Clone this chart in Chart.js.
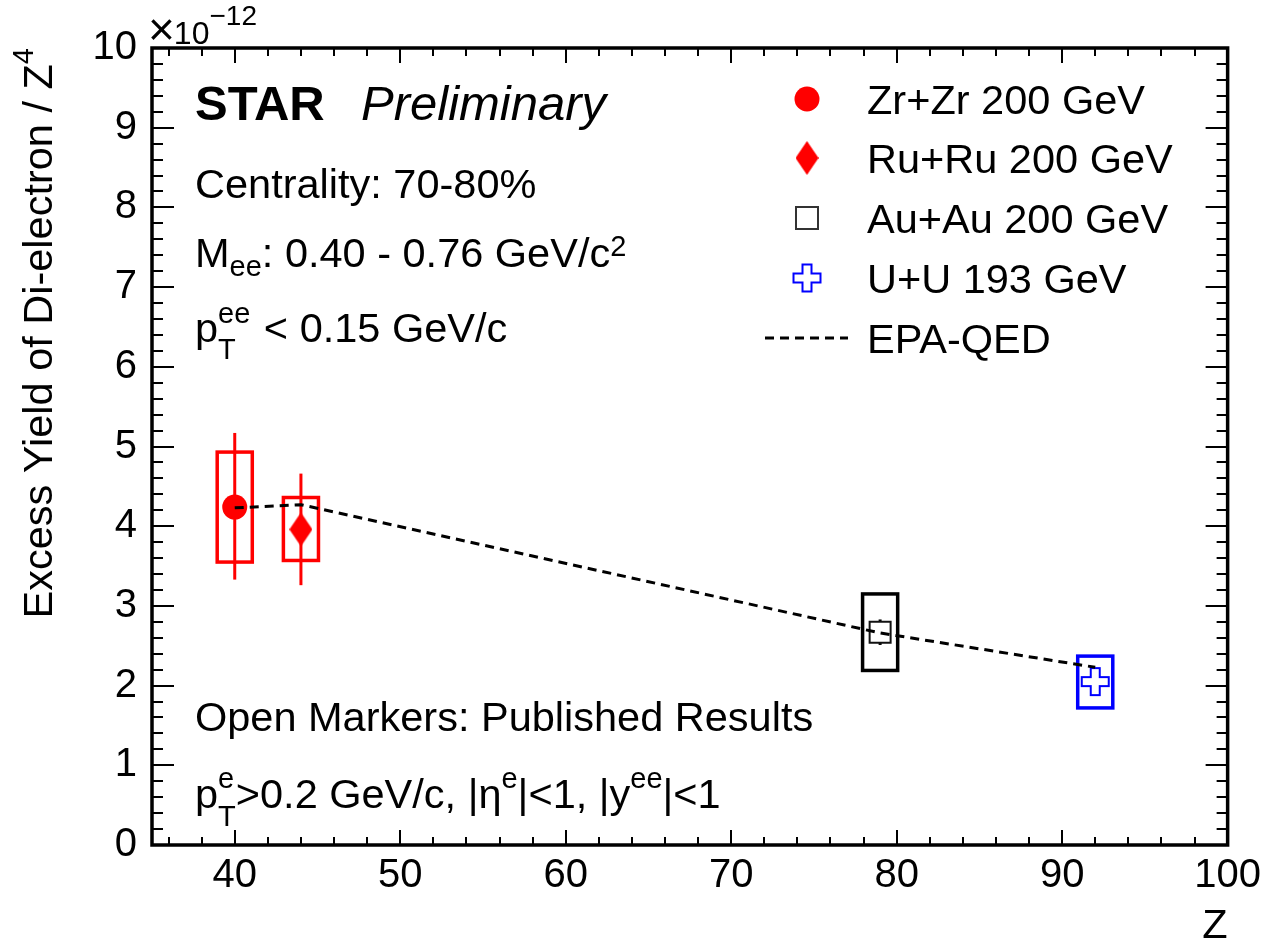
<!DOCTYPE html>
<html>
<head>
<meta charset="utf-8">
<script src="https://cdn.jsdelivr.net/npm/chart.js@4.4.1/dist/chart.umd.min.js"></script>
<style>
html,body{margin:0;padding:0;background:#fff;}
canvas{display:block;}
</style>
</head>
<body>
<canvas id="c" width="1268" height="944" style="width:1268px;height:944px"></canvas>
<script>
// ---------------- data ----------------
const xTicks = [40, 50, 60, 70, 80, 90, 100];
const yTicks = [0, 1, 2, 3, 4, 5, 6, 7, 8, 9, 10];
const systems = ['Zr+Zr 200 GeV', 'Ru+Ru 200 GeV', 'Au+Au 200 GeV', 'U+U 193 GeV'];
const zValues = [40, 44, 79, 92];
const yields = [4.24, 3.96, 2.67, 2.05];
const statLow = [3.33, 3.26, 2.51, 1.95];
const statHigh = [5.17, 4.66, 2.83, 2.15];
const sysLow = [3.55, 3.57, 2.19, 1.72];
const sysHigh = [4.93, 4.36, 3.15, 2.37];
const epaZ = [40, 44, 79, 92];
const epaYield = [4.23, 4.27, 2.66, 2.23];
const epaLabel = 'EPA-QED';

// ---------------- styles ----------------
const FONT = '"Liberation Sans", Arial, Helvetica, sans-serif';
const COLORS = ['#ff0000', '#ff0000', '#000000', '#0000ff'];
const BOX_HALF = 1.06;
const TXT = 41.5;
const SUB = 29;

function makeDiamond(w, h, color) {
  const c = document.createElement('canvas');
  c.width = w; c.height = h;
  const g = c.getContext('2d');
  g.fillStyle = color;
  g.beginPath();
  g.moveTo(w / 2, 0); g.lineTo(w, h / 2); g.lineTo(w / 2, h); g.lineTo(0, h / 2);
  g.closePath(); g.fill();
  return c;
}
function makeOpenSquare(s, color, lw) {
  const c = document.createElement('canvas');
  c.width = s + 2; c.height = s + 2;
  const g = c.getContext('2d');
  g.fillStyle = '#fff';
  g.fillRect(1, 1, s, s);
  g.strokeStyle = color; g.lineWidth = lw;
  g.strokeRect(1 + lw / 2, 1 + lw / 2, s - lw, s - lw);
  return c;
}
function makeOpenCross(s, color, lw) {
  const c = document.createElement('canvas');
  c.width = s + 4; c.height = s + 4;
  const g = c.getContext('2d');
  g.translate(2, 2);
  const a = s / 3, b = 2 * s / 3;
  g.beginPath();
  g.moveTo(a, 0); g.lineTo(b, 0); g.lineTo(b, a); g.lineTo(s, a); g.lineTo(s, b);
  g.lineTo(b, b); g.lineTo(b, s); g.lineTo(a, s); g.lineTo(a, b); g.lineTo(0, b);
  g.lineTo(0, a); g.lineTo(a, a); g.closePath();
  g.fillStyle = '#fff'; g.fill();
  g.strokeStyle = color; g.lineWidth = lw; g.stroke();
  return c;
}
const diamond = makeDiamond(23, 34, '#ff0000');
const openSq = makeOpenSquare(23, '#111', 2);
const openSqLeg = makeOpenSquare(24, '#333', 2);
const openCross = makeOpenCross(27, '#0000ff', 2);

const pointStyles = ['circle', diamond, openSq, openCross];

// rich text: parts are strings or {sub, sup, subDy, supDy}
function rich(ctx, x, y, parts, size) {
  let cx = x;
  for (const p of parts) {
    if (typeof p === 'string') {
      ctx.font = size + 'px ' + FONT;
      ctx.fillText(p, cx, y);
      cx += ctx.measureText(p).width;
    } else {
      ctx.font = SUB + 'px ' + FONT;
      let w = 0;
      if (p.sub) { ctx.fillText(p.sub, cx, y + p.subDy); w = Math.max(w, ctx.measureText(p.sub).width); }
      if (p.sup) { ctx.fillText(p.sup, cx, y + p.supDy); w = Math.max(w, ctx.measureText(p.sup).width); }
      cx += w + (p.gap || 0);
    }
  }
  return cx;
}
function richWidth(ctx, parts, size) {
  let w = 0;
  for (const p of parts) {
    if (typeof p === 'string') { ctx.font = size + 'px ' + FONT; w += ctx.measureText(p).width; }
    else {
      ctx.font = SUB + 'px ' + FONT;
      let m = 0;
      if (p.sub) m = Math.max(m, ctx.measureText(p.sub).width);
      if (p.sup) m = Math.max(m, ctx.measureText(p.sup).width);
      w += m + (p.gap || 0);
    }
  }
  return w;
}

const rootPlugin = {
  id: 'rootStyle',
  beforeDatasetsDraw(chart) {
    const { ctx, scales: { x, y } } = chart;
    ctx.save();
    for (let i = 0; i < zValues.length; i++) {
      const px = x.getPixelForValue(zValues[i]);
      const hw = x.getPixelForValue(zValues[i] + BOX_HALF) - px;
      const yt = y.getPixelForValue(sysHigh[i]);
      const yb = y.getPixelForValue(sysLow[i]);
      ctx.strokeStyle = COLORS[i];
      ctx.lineWidth = 3.5;
      ctx.strokeRect(px - hw, yt, 2 * hw, yb - yt);
      ctx.lineWidth = 3;
      ctx.beginPath();
      ctx.moveTo(px, y.getPixelForValue(statHigh[i]));
      ctx.lineTo(px, y.getPixelForValue(statLow[i]));
      ctx.stroke();
    }
    ctx.restore();
  },
  afterDraw(chart) {
    const { ctx, chartArea: ca, scales: { x, y } } = chart;
    ctx.save();
    // ticks
    ctx.strokeStyle = '#000';
    ctx.lineWidth = 2;
    ctx.beginPath();
    for (let k = 0; k <= 32; k++) {
      const v = 36 + 2 * k;
      if (v > x.max) break;
      const px = Math.round(x.getPixelForValue(v));
      const len = (v % 10 === 0) ? 15 : 8;
      ctx.moveTo(px, ca.bottom); ctx.lineTo(px, ca.bottom - len);
      ctx.moveTo(px, ca.top); ctx.lineTo(px, ca.top + len);
    }
    for (let k = 0; k <= 50; k++) {
      const v = k * 0.2;
      const py = Math.round(y.getPixelForValue(v));
      const len = (k % 5 === 0) ? 22 : 11;
      ctx.moveTo(ca.left, py); ctx.lineTo(ca.left + len, py);
      ctx.moveTo(ca.right, py); ctx.lineTo(ca.right - len, py);
    }
    ctx.stroke();
    // frame
    ctx.lineWidth = 3.5;
    ctx.strokeRect(ca.left, ca.top, ca.right - ca.left, ca.bottom - ca.top);

    ctx.fillStyle = '#000';
    ctx.textBaseline = 'alphabetic';
    ctx.textAlign = 'left';

    // exponent label
    ctx.font = '46px ' + FONT;
    ctx.fillText('\u00d7', 148, 45);
    const wx = ctx.measureText('\u00d7').width;
    ctx.font = '32px ' + FONT;
    ctx.fillText('10', 148 + wx - 1, 44);
    const w10 = ctx.measureText('10').width;
    ctx.font = '28px ' + FONT;
    ctx.fillText('\u221212', 148 + wx - 1 + w10, 25);

    // Y title (rotated)
    const yParts = ['Excess Yield of Di-electron / Z', { sup: '4', supDy: -19 }];
    const yw = richWidth(ctx, yParts, TXT);
    ctx.save();
    ctx.translate(52, ca.top + yw);
    ctx.rotate(-Math.PI / 2);
    rich(ctx, 0, 0, yParts, TXT);
    ctx.restore();

    // X title
    ctx.font = TXT + 'px ' + FONT;
    ctx.textAlign = 'right';
    ctx.fillText('Z', ca.right, 938);
    ctx.textAlign = 'left';

    // STAR Preliminary
    ctx.font = 'bold 49px ' + FONT;
    ctx.fillText('STAR', 195, 120);
    ctx.font = 'italic 49px ' + FONT;
    ctx.fillText('Preliminary', 361, 120);

    // annotations
    ctx.font = TXT + 'px ' + FONT;
    ctx.fillText('Centrality: 70-80%', 195, 198);
    rich(ctx, 195, 267, ['M', { sub: 'ee', subDy: 9 }, ': 0.40 - 0.76 GeV/c', { sup: '2', supDy: -11 }], TXT);
    rich(ctx, 195, 342, ['p', { sub: 'T', sup: 'ee', subDy: 17, supDy: -19, gap: 2 }, ' < 0.15 GeV/c'], TXT);
    ctx.font = TXT + 'px ' + FONT;
    ctx.fillText('Open Markers: Published Results', 195, 731);
    rich(ctx, 195, 808, ['p', { sub: 'T', sup: 'e', subDy: 18, supDy: -20 }, '>0.2 GeV/c, |\u03b7', { sup: 'e', supDy: -20 }, '|<1, |y', { sup: 'ee', supDy: -20 }, '|<1'], TXT);

    // legend
    const lx = 807, tx = 867;
    const rows = [99, 158, 218, 278, 338];
    for (let i = 0; i < systems.length; i++) {
      const ry = rows[i];
      if (i === 0) {
        ctx.fillStyle = '#ff0000';
        ctx.beginPath(); ctx.arc(lx, ry, 12.5, 0, Math.PI * 2); ctx.fill();
      } else {
        const img = i === 1 ? diamond : (i === 2 ? openSqLeg : openCross);
        ctx.drawImage(img, lx - img.width / 2, ry - img.height / 2);
      }
      ctx.fillStyle = '#000';
      ctx.font = TXT + 'px ' + FONT;
      ctx.fillText(systems[i], tx, ry + 15);
    }
    ctx.strokeStyle = '#000';
    ctx.lineWidth = 3;
    ctx.setLineDash([9, 6]);
    ctx.beginPath(); ctx.moveTo(765, rows[4]); ctx.lineTo(848, rows[4]); ctx.stroke();
    ctx.setLineDash([]);
    ctx.fillText(epaLabel, tx, rows[4] + 15);

    ctx.restore();
  }
};

const datasets = systems.map((name, i) => ({
  label: name,
  data: [{ x: zValues[i], y: yields[i] }],
  pointStyle: pointStyles[i],
  pointRadius: i === 0 ? 12.5 : 14,
  pointHoverRadius: i === 0 ? 12.5 : 14,
  backgroundColor: COLORS[i],
  borderColor: COLORS[i],
  borderWidth: 0,
  showLine: false,
  order: 1
}));
datasets.push({
  label: epaLabel,
  data: epaZ.map((z, i) => ({ x: z, y: epaYield[i] })),
  showLine: true,
  borderColor: '#000',
  borderWidth: 3,
  borderDash: [9, 6],
  pointRadius: 0,
  fill: false,
  tension: 0,
  order: 0
});

new Chart(document.getElementById('c'), {
  type: 'scatter',
  data: { datasets },
  options: {
    responsive: false,
    devicePixelRatio: 1,
    animation: false,
    layout: { padding: { top: 48, right: 38, left: 0, bottom: 0 } },
    plugins: { legend: { display: false }, tooltip: { enabled: false } },
    scales: {
      x: {
        type: 'linear', min: 35, max: 100,
        afterBuildTicks: s => { s.ticks = xTicks.map(v => ({ value: v })); },
        afterFit: s => { s.height = 99; },
        grid: { display: false, drawTicks: false },
        border: { display: false },
        ticks: { color: '#000', font: { family: FONT, size: 40 }, padding: 7, maxRotation: 0, autoSkip: false }
      },
      y: {
        type: 'linear', min: 0, max: 10,
        afterBuildTicks: s => { s.ticks = yTicks.map(v => ({ value: v })); },
        afterFit: s => { s.width = 152; },
        grid: { display: false, drawTicks: false },
        border: { display: false },
        ticks: { color: '#000', font: { family: FONT, size: 40 }, padding: 15, autoSkip: false }
      }
    }
  },
  plugins: [rootPlugin]
});
</script>
</body>
</html>
